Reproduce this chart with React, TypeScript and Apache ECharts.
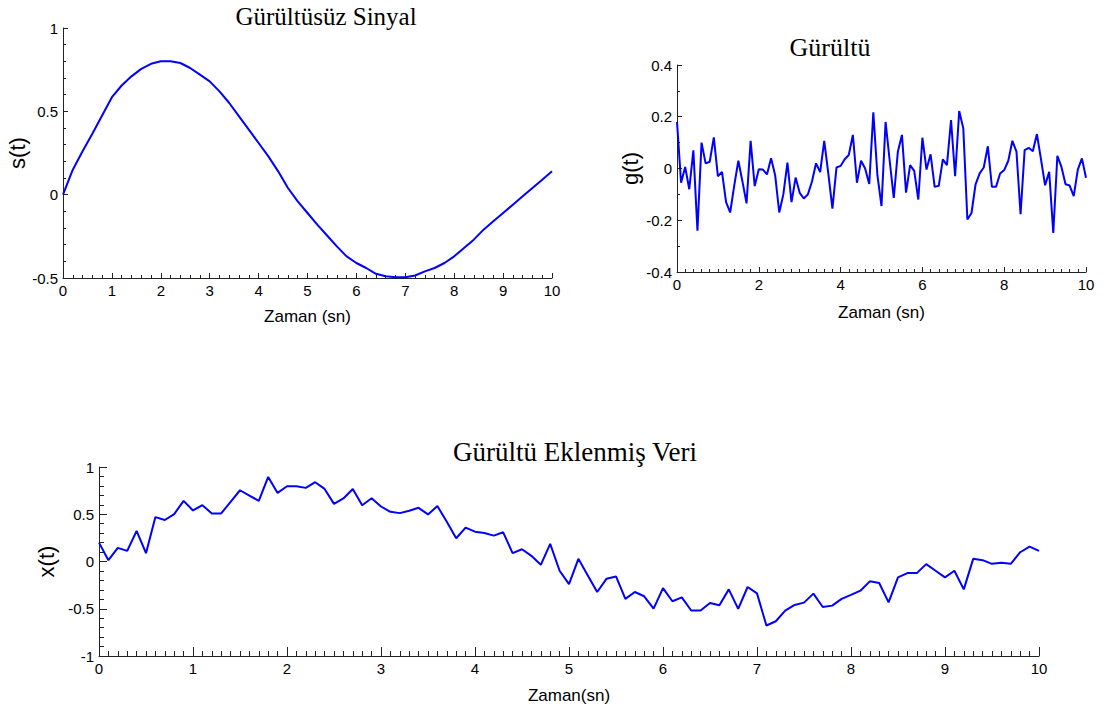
import React, { useEffect, useRef } from "react";
import * as echarts from "echarts";

// s(t): noise-free signal, sampled every 0.2 s from 0 to 10
const SIGNAL_STEP = 0.2;
const SIGNAL = [
  0, 0.15, 0.26, 0.365, 0.475, 0.585, 0.655, 0.71, 0.755, 0.785,
  0.8, 0.8, 0.79, 0.76, 0.72, 0.68, 0.62, 0.55, 0.47, 0.39,
  0.31, 0.23, 0.14, 0.04, -0.04, -0.11, -0.18, -0.245, -0.31, -0.37,
  -0.41, -0.44, -0.475, -0.49, -0.495, -0.495, -0.485, -0.46, -0.44, -0.41,
  -0.37, -0.32, -0.27, -0.21, -0.16, -0.11, -0.06, -0.01, 0.04, 0.09,
  0.14,
];

// g(t): noise, sampled every 0.1 s
const NOISE_STEP = 0.1;
const NOISE = [
  0.18, -0.055, 0.006, -0.08, 0.07, -0.24, 0.1, 0.02, 0.026, 0.12,
  -0.03, -0.013, -0.13, -0.17, -0.065, 0.03, -0.05, -0.135, 0.107, -0.068,
  -0.003, -0.004, -0.023, 0.04, -0.026, -0.17, -0.1, 0.023, -0.13, -0.035,
  -0.094, -0.116, -0.1, -0.05, 0.02, -0.014, 0.107, -0.02, -0.155, 0.004,
  0.01, 0.036, 0.052, 0.13, -0.055, 0.03, 0, -0.06, 0.217, -0.026,
  -0.145, 0.18, 0.03, -0.114, 0.065, 0.13, -0.093, 0.013, -0.009, -0.12,
  0.119, -0.004, 0.055, -0.071, -0.067, 0.035, 0.013, 0.187, -0.03, 0.222,
  0.155, -0.197, -0.172, -0.061, -0.019, 0.004, 0.086, -0.071, -0.071, -0.019,
  -0.006, 0.03, 0.107, 0.065, -0.177, 0.071, 0.08, 0.067, 0.133, 0.035,
  -0.065, -0.013, -0.249, 0.049, 0.006, -0.061, -0.066, -0.107, -0.004, 0.039,
  -0.036,
];

// x(t): noisy data, sampled every 0.1 s
const NOISY_STEP = 0.1;
const NOISY = [
  0.2, 0.014, 0.144, 0.112, 0.323, 0.088, 0.47, 0.439, 0.502, 0.642,
  0.54, 0.596, 0.509, 0.509, 0.632, 0.754, 0.698, 0.642, 0.895, 0.726,
  0.796, 0.796, 0.779, 0.839, 0.768, 0.61, 0.667, 0.768, 0.596, 0.67,
  0.582, 0.526, 0.512, 0.537, 0.568, 0.498, 0.586, 0.421, 0.246, 0.358,
  0.316, 0.302, 0.274, 0.309, 0.088, 0.13, 0.06, -0.035, 0.186, -0.098,
  -0.239, 0.028, -0.147, -0.323, -0.182, -0.158, -0.396, -0.323, -0.368, -0.498,
  -0.281, -0.421, -0.379, -0.519, -0.519, -0.439, -0.463, -0.295, -0.502, -0.27,
  -0.337, -0.677, -0.632, -0.519, -0.46, -0.435, -0.34, -0.481, -0.467, -0.396,
  -0.354, -0.309, -0.21, -0.228, -0.432, -0.168, -0.123, -0.123, -0.028, -0.098,
  -0.168, -0.098, -0.295, 0.028, 0.014, -0.025, -0.014, -0.025, 0.098, 0.158,
  0.112,
];

const TITLES = ["Gürültüsüz Sinyal", "Gürültü", "Gürültü Eklenmiş Veri"];
const Y_NAMES = ["s(t)", "g(t)", "x(t)"];
const X_NAMES = ["Zaman (sn)", "Zaman (sn)", "Zaman(sn)"];

const SANS = '"Liberation Sans Narrow", "Liberation Sans", Arial, sans-serif';
const SERIF = '"Liberation Serif", "Times New Roman", serif';

const pairs = (vals: number[], step: number) =>
  vals.map((v, i) => [Math.round(i * step * 1000) / 1000, v]);

export default function App() {
  const ref = useRef<HTMLDivElement>(null);

  useEffect(() => {
    if (!ref.current) return;
    const chart = echarts.init(ref.current, null, { renderer: "svg" });

    const axisLine = { show: true, onZero: false, lineStyle: { color: "#222", width: 1 } };

    const mkX = (
      gridIndex: number,
      name: string,
      interval: number,
      minorSplit: number,
      nameGap: number,
      fs: number,
      tickLen: number
    ) => ({
      type: "value",
      gridIndex,
      min: 0,
      max: 10,
      interval,
      name,
      nameLocation: "middle",
      nameGap,
      nameTextStyle: { fontFamily: SANS, fontSize: 17, color: "#000" },
      axisLine,
      axisTick: { show: true, inside: true, length: tickLen, lineStyle: { color: "#222" } },
      minorTick: { show: true, splitNumber: minorSplit, length: Math.round(tickLen * 0.6), lineStyle: { color: "#222" } },
      axisLabel: { fontFamily: SANS, fontSize: fs, color: "#000", margin: 5 },
      splitLine: { show: false },
    });

    const mkY = (
      gridIndex: number,
      name: string,
      min: number,
      max: number,
      interval: number,
      minorSplit: number,
      nameGap: number,
      fs: number,
      tickLen: number
    ) => ({
      type: "value",
      gridIndex,
      min,
      max,
      interval,
      name,
      nameLocation: "middle",
      nameGap,
      nameRotate: 90,
      nameTextStyle: { fontFamily: SANS, fontSize: 22, color: "#000" },
      axisLine,
      axisTick: { show: true, inside: true, length: tickLen, lineStyle: { color: "#222" } },
      minorTick: { show: true, splitNumber: minorSplit, length: Math.round(tickLen * 0.6), lineStyle: { color: "#222" } },
      axisLabel: { fontFamily: SANS, fontSize: fs, color: "#000", margin: 5 },
      splitLine: { show: false },
    });

    const line = (xi: number, data: number[][]) => ({
      type: "line",
      xAxisIndex: xi,
      yAxisIndex: xi,
      data,
      showSymbol: false,
      symbol: "none",
      lineStyle: { color: "#0000ff", width: 2 },
      itemStyle: { color: "#0000ff" },
    });

    chart.setOption({
      animation: false,
      backgroundColor: "#fff",
      grid: [
        { left: 63, top: 28, width: 489, height: 250 },
        { left: 677, top: 65, width: 409, height: 207 },
        { left: 99, top: 467, width: 940, height: 189 },
      ],
      xAxis: [
        mkX(0, X_NAMES[0], 1, 5, 30, 15, 5),
        mkX(1, X_NAMES[1], 2, 10, 32, 15, 5),
        mkX(2, X_NAMES[2], 1, 10, 31, 15, 9),
      ],
      yAxis: [
        mkY(0, Y_NAMES[0], -0.5, 1, 0.5, 5, 32, 15, 5),
        mkY(1, Y_NAMES[1], -0.4, 0.4, 0.2, 2, 36, 15, 5),
        mkY(2, Y_NAMES[2], -1, 1, 0.5, 5, 32, 15, 8),
      ],
      graphic: [
        {
          type: "text",
          x: 326,
          y: 16,
          style: { text: TITLES[0], font: `25px ${SERIF}`, fill: "#000", textAlign: "center", textVerticalAlign: "middle" },
        },
        {
          type: "text",
          x: 830,
          y: 47,
          style: { text: TITLES[1], font: `26px ${SERIF}`, fill: "#000", textAlign: "center", textVerticalAlign: "middle" },
        },
        {
          type: "text",
          x: 575,
          y: 452,
          style: { text: TITLES[2], font: `27px ${SERIF}`, fill: "#000", textAlign: "center", textVerticalAlign: "middle" },
        },
      ],
      series: [
        line(0, pairs(SIGNAL, SIGNAL_STEP)),
        line(1, pairs(NOISE, NOISE_STEP)),
        line(2, pairs(NOISY, NOISY_STEP)),
      ],
    });

    return () => chart.dispose();
  }, []);

  return (
    <div
      ref={ref}
      style={{ position: "absolute", left: 0, top: 0, width: 1107, height: 715, background: "#fff" }}
    />
  );
}
